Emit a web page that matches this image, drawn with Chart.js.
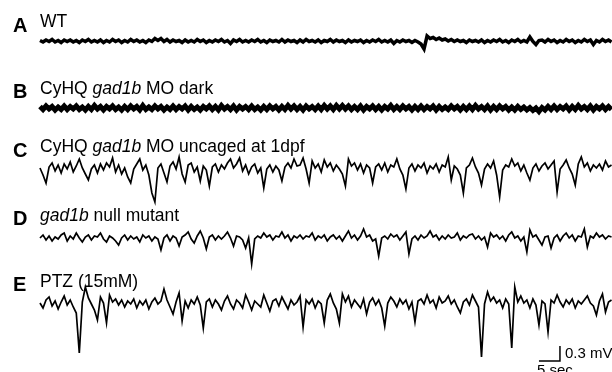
<!DOCTYPE html>
<html>
<head>
<meta charset="utf-8">
<script src="https://cdn.jsdelivr.net/npm/chart.js@4"></script>
<style>
  body { margin: 0; background: #fff; }
  #wrap { position: relative; width: 612px; height: 372px; overflow: hidden; }
  #myChart { position: absolute; left: 0; top: 0; }
  .lbl { position: absolute; font-family: "Liberation Sans", Arial, sans-serif; color: #000; line-height: 1; white-space: nowrap; }
  .let { font-weight: bold; font-size: 20px; }
  .txt { font-size: 17.5px; }
  .bar { font-size: 15px; }
</style>
</head>
<body>
<div id="wrap">
  <canvas id="myChart" width="612" height="372"></canvas>
  <div class="lbl let" style="left:13px;top:15px">A</div>
  <div class="lbl txt" style="left:40px;top:13px">WT</div>
  <div class="lbl let" style="left:13px;top:81px">B</div>
  <div class="lbl txt" style="left:40px;top:80px">CyHQ <i>gad1b</i> MO dark</div>
  <div class="lbl let" style="left:13px;top:140px">C</div>
  <div class="lbl txt" style="left:40px;top:138px">CyHQ <i>gad1b</i> MO uncaged at 1dpf</div>
  <div class="lbl let" style="left:13px;top:208px">D</div>
  <div class="lbl txt" style="left:40px;top:207px"><i>gad1b</i> null mutant</div>
  <div class="lbl let" style="left:13px;top:274px">E</div>
  <div class="lbl txt" style="left:40px;top:273px">PTZ (15mM)</div>
  <div class="lbl bar" style="left:565px;top:345px">0.3 mV</div>
  <div class="lbl bar" style="left:537px;top:362px">5 sec</div>
</div>
<script>
// sample interval of the traces (sec)
const dt = 0.72;

// recordings, mV relative to each trace's resting level
const traceA = [
  0.01,-0.02,0.02,-0.01,0.03,-0.02,0.01,-0.03,0.02,-0.01,
  0.02,-0.02,0.01,-0.03,0.02,-0.01,0.03,-0.02,0.01,-0.02,
  0.02,-0.03,0.01,-0.02,0.03,-0.01,0.02,-0.03,0.01,-0.02,
  0.03,-0.01,0.02,-0.02,0.01,-0.03,0.02,-0.01,0.05,0.01,
  0.05,-0.01,0.03,-0.02,0.02,-0.01,0.01,-0.03,0.02,-0.02,
  0.01,-0.02,0.03,-0.01,0.02,-0.03,0.01,-0.02,0.02,-0.01,
  0.03,-0.02,0.01,-0.05,0.02,-0.01,0.03,-0.02,0.01,-0.02,
  0.02,-0.01,0.03,-0.02,0.01,-0.03,0.02,-0.01,0.01,-0.02,
  0.03,-0.02,0.02,-0.01,0.01,-0.03,0.02,-0.02,0.03,-0.01,
  0.01,-0.02,0.02,-0.03,0.01,-0.01,0.03,-0.02,0.02,-0.01,
  0.01,-0.03,0.02,-0.02,0.01,-0.01,0.02,-0.03,0.01,-0.02,
  0.02,-0.01,0.03,-0.02,0.01,-0.02,0.02,-0.05,0.01,-0.02,
  0.02,-0.01,0.01,-0.03,0.01,-0.02,-0.06,-0.16,0.10,0.05,
  0.07,0.03,0.06,0.02,0.04,0.00,0.03,-0.01,0.02,-0.01,
  0.01,-0.03,0.02,-0.01,0.01,-0.02,0.02,-0.03,0.01,-0.02,
  0.02,-0.01,0.03,-0.02,0.01,-0.03,0.02,-0.01,0.03,-0.02,
  0.01,-0.02,0.08,-0.01,-0.07,0.01,0.02,-0.02,0.03,-0.01,
  0.02,-0.03,0.01,-0.02,0.03,-0.01,0.02,-0.03,0.01,-0.02,
  0.03,-0.01,0.02,-0.07,0.01,-0.02,0.03,-0.01,0.02,-0.02
];
const traceB = [
  0.03,-0.03,0.04,-0.02,0.03,-0.04,0.02,-0.03,0.04,-0.03,
  0.03,-0.02,0.04,-0.03,0.02,-0.04,0.03,-0.03,0.05,-0.02,
  0.03,-0.04,0.03,-0.02,0.04,-0.03,0.02,-0.04,0.03,-0.03,
  0.04,-0.02,0.03,-0.04,0.05,-0.03,0.02,-0.03,0.04,-0.02,
  0.03,-0.04,0.02,-0.03,0.04,-0.03,0.03,-0.02,0.04,-0.04,
  0.03,-0.03,0.02,-0.04,0.03,-0.02,0.04,-0.03,0.03,-0.04,
  0.05,-0.02,0.03,-0.03,0.04,-0.04,0.03,-0.02,0.03,-0.03,
  0.04,-0.03,0.02,-0.04,0.03,-0.03,0.04,-0.02,0.03,-0.04,
  0.03,-0.03,0.05,-0.02,0.04,-0.03,0.03,-0.04,0.04,-0.02,
  0.03,-0.03,0.04,-0.03,0.05,-0.02,0.04,-0.03,0.05,-0.02,
  0.05,-0.02,0.04,-0.03,0.03,-0.03,0.04,-0.04,0.03,-0.02,
  0.04,-0.03,0.03,-0.04,0.03,-0.02,0.05,-0.03,0.03,-0.03,
  0.04,-0.02,0.03,-0.04,0.03,-0.03,0.04,-0.03,0.03,-0.02,
  0.04,-0.04,0.03,-0.03,0.02,-0.03,0.04,-0.02,0.03,-0.04,
  0.03,-0.03,0.04,-0.03,0.05,-0.02,0.03,-0.03,0.04,-0.04,
  0.03,-0.03,0.04,-0.02,0.03,-0.04,0.02,-0.04,0.03,-0.03,
  0.02,-0.04,0.01,-0.05,0.00,-0.07,0.01,-0.04,0.03,-0.03,
  0.04,-0.03,0.03,-0.02,0.04,-0.04,0.03,-0.03,0.05,-0.02,
  0.03,-0.03,0.04,-0.04,0.03,-0.02,0.04,-0.03,0.03,-0.03
];
const traceC = [
  0.04,-0.10,-0.26,0.06,0.14,-0.02,0.10,-0.06,0.12,0.02,
  0.16,-0.04,0.08,0.22,0.04,-0.08,-0.20,0.02,0.10,-0.06,
  0.12,0.00,0.14,0.06,0.24,-0.04,0.10,-0.08,0.04,-0.14,
  -0.26,0.02,0.12,0.22,0.00,0.10,-0.10,-0.46,-0.64,0.04,
  0.12,-0.06,-0.24,0.08,0.16,0.02,0.26,-0.08,-0.24,0.10,
  0.14,-0.04,0.06,-0.22,0.08,0.00,-0.32,0.06,0.12,-0.04,
  0.10,0.02,0.14,0.22,0.04,0.12,0.24,-0.02,0.10,-0.08,
  0.06,0.12,-0.06,0.04,-0.36,0.02,0.10,-0.04,0.08,0.00,
  -0.22,0.06,0.14,0.04,0.22,0.08,0.10,0.24,0.02,-0.26,
  0.18,0.04,0.12,-0.04,0.20,0.06,0.14,-0.02,0.10,0.02,
  -0.08,-0.32,0.22,0.08,0.14,0.00,0.12,-0.06,0.10,0.04,
  -0.26,0.06,0.12,0.00,0.14,-0.04,0.10,0.06,0.22,0.02,
  -0.10,-0.38,0.04,0.12,-0.02,0.10,0.04,0.14,-0.06,0.08,
  0.02,0.12,-0.04,0.10,0.06,0.26,-0.20,0.08,0.02,-0.10,
  -0.46,0.04,0.10,0.24,0.06,-0.06,-0.30,0.02,0.12,0.04,
  0.18,-0.10,-0.54,0.00,0.10,0.06,0.22,0.08,0.14,-0.02,
  0.10,-0.06,-0.20,0.04,0.12,-0.02,0.08,0.14,0.02,0.10,
  0.18,-0.44,0.02,0.10,0.20,0.04,-0.08,-0.30,0.12,0.26,
  0.06,0.14,-0.02,0.10,0.04,0.12,0.00,0.18,0.06,0.10
];
const traceD = [
  0.02,0.08,-0.02,0.06,-0.04,0.04,0.00,0.08,0.12,-0.04,
  0.06,0.00,0.12,0.02,-0.06,0.04,0.08,-0.02,0.06,0.04,
  0.12,0.00,-0.06,0.06,0.02,-0.04,-0.12,0.02,0.08,-0.02,
  0.06,0.00,0.04,-0.06,0.08,0.02,0.06,-0.04,0.04,0.00,
  -0.22,0.02,0.08,-0.04,0.06,0.02,-0.14,0.04,0.08,0.14,
  0.00,-0.08,0.06,0.16,0.02,-0.20,0.04,0.08,-0.02,0.06,
  0.00,0.06,0.14,0.02,-0.14,0.06,0.04,-0.02,-0.18,0.02,
  -0.50,0.00,0.06,0.02,0.12,0.04,0.08,-0.02,0.06,0.04,
  0.14,0.02,0.08,-0.04,0.06,0.02,0.08,0.00,0.06,0.04,
  0.12,-0.02,0.06,0.02,0.08,-0.04,0.04,0.08,0.00,0.06,
  -0.04,0.06,0.16,0.02,0.08,-0.02,0.06,0.20,0.04,0.08,
  -0.04,0.00,-0.34,0.02,0.06,0.00,0.10,0.04,0.08,-0.02,
  0.06,0.14,-0.30,0.00,0.06,-0.02,0.08,0.02,0.06,0.16,
  0.04,0.08,-0.02,0.06,0.00,0.08,0.02,0.04,0.12,-0.02,
  0.06,0.02,0.08,0.10,0.00,0.06,-0.02,0.04,-0.16,0.12,
  0.04,0.08,0.00,0.06,-0.04,0.08,0.14,0.02,0.06,-0.04,
  0.04,-0.26,0.18,0.04,0.08,-0.02,-0.12,0.04,0.06,-0.18,
  0.02,0.08,-0.04,0.06,0.12,0.02,0.08,-0.04,0.06,0.04,
  0.20,-0.16,0.06,0.02,0.12,0.04,0.08,0.00,0.06,0.04
];
const traceE = [
  0.04,-0.06,0.10,0.16,-0.02,0.08,-0.08,0.06,0.18,0.00,
  0.10,-0.04,-0.16,-0.96,0.06,0.36,0.14,0.02,-0.10,-0.30,
  0.16,0.04,-0.36,0.20,0.06,0.12,0.00,0.10,-0.04,0.08,
  0.02,0.12,-0.06,0.08,0.00,0.10,-0.08,0.06,0.14,0.02,
  0.08,0.32,0.10,-0.04,-0.18,0.06,0.24,-0.32,0.08,-0.06,
  0.10,0.02,0.16,0.00,-0.46,0.06,0.12,-0.04,0.10,0.02,
  -0.10,0.08,0.18,0.02,-0.08,0.10,0.04,-0.06,0.20,0.06,
  -0.10,0.08,0.02,-0.04,0.20,0.04,-0.12,0.08,0.12,-0.02,
  0.16,0.04,-0.08,0.10,0.00,0.06,0.18,-0.44,0.10,0.02,
  0.12,-0.06,0.08,0.02,-0.36,0.10,0.22,0.04,-0.08,-0.36,
  0.22,0.06,0.18,-0.04,0.10,0.02,-0.06,0.12,-0.18,0.06,
  0.14,0.00,0.10,-0.06,-0.42,0.04,0.16,0.08,-0.04,0.12,
  0.02,0.10,-0.08,0.06,-0.34,0.08,0.12,0.02,0.20,0.04,
  0.10,-0.06,0.16,0.04,0.08,0.18,0.02,0.10,-0.04,-0.16,
  0.06,0.12,0.00,0.20,0.08,-0.04,-1.04,0.02,0.26,0.08,
  0.16,0.04,0.10,-0.06,0.12,0.02,-0.86,0.36,0.06,0.18,
  0.04,0.10,-0.06,0.12,0.00,-0.40,0.08,0.02,-0.54,0.10,
  0.04,0.20,0.06,-0.04,0.10,0.02,0.12,-0.06,0.08,0.02,
  0.10,0.18,0.04,-0.02,-0.20,0.08,0.22,-0.14,0.06,0.10
];

// layout: vertical offset (mV) and stroke width for each trace
const traces = [traceA, traceB, traceC, traceD, traceE];
const offsets = [-0.82, -2.16, -3.40, -4.78, -6.10];
const widths = [3.5, 5, 1.7, 1.7, 1.7];

// scale bar: 5 sec by 0.3 mV
const barSec = 5, barMV = 0.3, barX = 123.8, barY = -7.22;

function toPoints(vals, off) {
  return vals.map((v, i) => ({ x: i * dt, y: v + off }));
}

const datasets = traces.map((t, k) => ({
  data: toPoints(t, offsets[k]),
  borderColor: '#000',
  borderWidth: widths[k],
  pointRadius: 0,
  tension: 0
}));
datasets.push({
  data: [
    { x: barX - barSec, y: barY },
    { x: barX, y: barY },
    { x: barX, y: barY + barMV }
  ],
  borderColor: '#000',
  borderWidth: 1.5,
  pointRadius: 0,
  tension: 0
});

const ctx = document.getElementById('myChart');
new Chart(ctx, {
  type: 'line',
  data: { datasets: datasets },
  options: {
    responsive: false,
    animation: false,
    layout: { padding: 0 },
    plugins: { legend: { display: false }, tooltip: { enabled: false } },
    scales: {
      x: { type: 'linear', display: false, min: -9.52, max: 136.19 },
      y: { display: false, min: -7.44, max: 0 }
    }
  }
});
</script>
</body>
</html>
